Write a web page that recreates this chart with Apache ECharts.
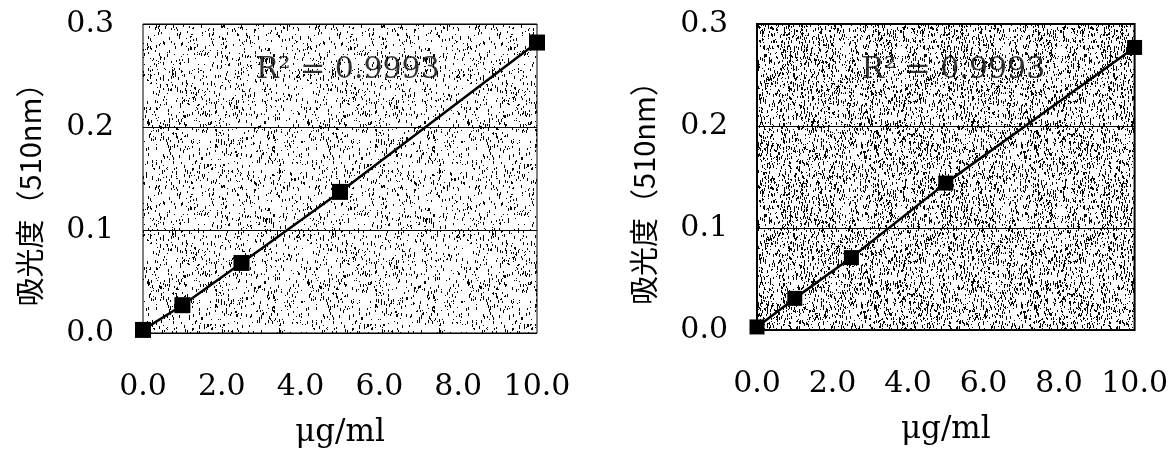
<!DOCTYPE html>
<html>
<head>
<meta charset="utf-8">
<script src="https://cdn.jsdelivr.net/npm/echarts@6/dist/echarts.min.js"></script>
<style>
  html, body { margin: 0; padding: 0; background: #fff; }
  #chart { width: 1171px; height: 454px; }
</style>
</head>
<body>
<div id="chart"></div>
<script>
// Standard concentrations (μg/ml) and absorbance readings at 510 nm
const concentrations = [0, 1, 2.5, 5, 10];
const absorbanceLeft = [0.003, 0.027, 0.068, 0.137, 0.282];
const absorbanceRight = [0.003, 0.031, 0.071, 0.144, 0.277];
const r2Left = '0.9993';
const r2Right = '0.9993';

// Axis settings
const xMin = 0, xMax = 10, xStep = 2;
const yMin = 0, yMax = 0.3, yStep = 0.1;
const xName = 'μg/ml';
const yName = '吸光度（510nm）';

// Stippled fill for the plot backgrounds (fixed hash, so it is the same every time)
function hash(x, y, s) {
  let h = (x * 374761393 + y * 668265263 + s * 982451653) | 0;
  h = Math.imul(h ^ (h >>> 13), 1274126177);
  h = h ^ (h >>> 16);
  return (h >>> 0) / 4294967296;
}
function stipple(density, seed) {
  const size = 160;
  const c = document.createElement('canvas');
  c.width = size; c.height = size;
  const ctx = c.getContext('2d');
  ctx.fillStyle = '#ffffff';
  ctx.fillRect(0, 0, size, size);
  ctx.fillStyle = '#000000';
  for (let y = 0; y < size; y++) {
    for (let x = 0; x < size; x++) {
      if (hash(x, y, seed) < density) {
        const len = 1 + Math.floor(hash(y, x, seed + 11) * 3);
        ctx.fillRect(x, y, 1, len);
      }
    }
  }
  return c;
}

const serif = '"DejaVu Serif", "Liberation Serif", serif';
const cjk = '"Noto Sans CJK JP", "Noto Sans CJK SC", sans-serif';

function xAxisFor(gridIndex) {
  return {
    type: 'value', gridIndex, min: xMin, max: xMax, interval: xStep,
    name: xName, nameLocation: 'middle', nameGap: 84,
    nameTextStyle: { fontFamily: serif, fontSize: 31, color: '#000' },
    axisLine: { show: false }, axisTick: { show: false },
    splitLine: { show: false },
    axisLabel: {
      margin: 39, color: '#000', fontFamily: serif, fontSize: 30,
      formatter: v => v.toFixed(1)
    }
  };
}
function yAxisFor(gridIndex) {
  return {
    type: 'value', gridIndex, min: yMin, max: yMax, interval: yStep,
    name: yName, nameLocation: 'middle', nameGap: 99, nameRotate: 90,
    nameTextStyle: { fontFamily: cjk, fontSize: 29, color: '#000', padding: [0, 18, 0, 0] },
    axisLine: { show: false }, axisTick: { show: false },
    splitLine: { show: true, lineStyle: { color: '#000', width: 1 } },
    axisLabel: {
      margin: 29, color: '#000', fontFamily: serif, fontSize: 30,
      formatter: v => v.toFixed(1)
    }
  };
}
function pointsOf(values) {
  return concentrations.map((c, i) => [c, values[i]]);
}
function curve(idx, values, lineWidth, symbolSize) {
  return {
    type: 'line', xAxisIndex: idx, yAxisIndex: idx,
    data: pointsOf(values),
    symbol: 'rect', symbolSize,
    itemStyle: { color: '#000' },
    lineStyle: { color: '#000', width: lineWidth },
    animation: false, z: 3
  };
}
function r2Label(idx, r2) {
  return {
    type: 'scatter', xAxisIndex: idx, yAxisIndex: idx,
    data: [[5.2, 0.255]], symbolSize: 0, silent: true, animation: false,
    label: {
      show: true, position: 'inside', color: '#000',
      fontFamily: serif, fontSize: 30,
      formatter: 'R² = ' + r2
    },
    z: 4
  };
}

const chart = echarts.init(document.getElementById('chart'), null, { renderer: 'canvas' });
chart.setOption({
  backgroundColor: '#ffffff',
  grid: [
    { left: 143, right: 634, top: 24, bottom: 121, show: true,
      borderColor: '#000', borderWidth: 1,
      backgroundColor: { image: stipple(0.05, 3), repeat: 'repeat' } },
    { left: 757, right: 35, top: 24, bottom: 124, show: true,
      borderColor: '#000', borderWidth: 2,
      backgroundColor: { image: stipple(0.11, 7), repeat: 'repeat' } }
  ],
  xAxis: [xAxisFor(0), xAxisFor(1)],
  yAxis: [yAxisFor(0), yAxisFor(1)],
  series: [
    curve(0, absorbanceLeft, 2.5, 16),
    curve(1, absorbanceRight, 2.5, 15),
    r2Label(0, r2Left),
    r2Label(1, r2Right)
  ]
});
</script>
</body>
</html>
